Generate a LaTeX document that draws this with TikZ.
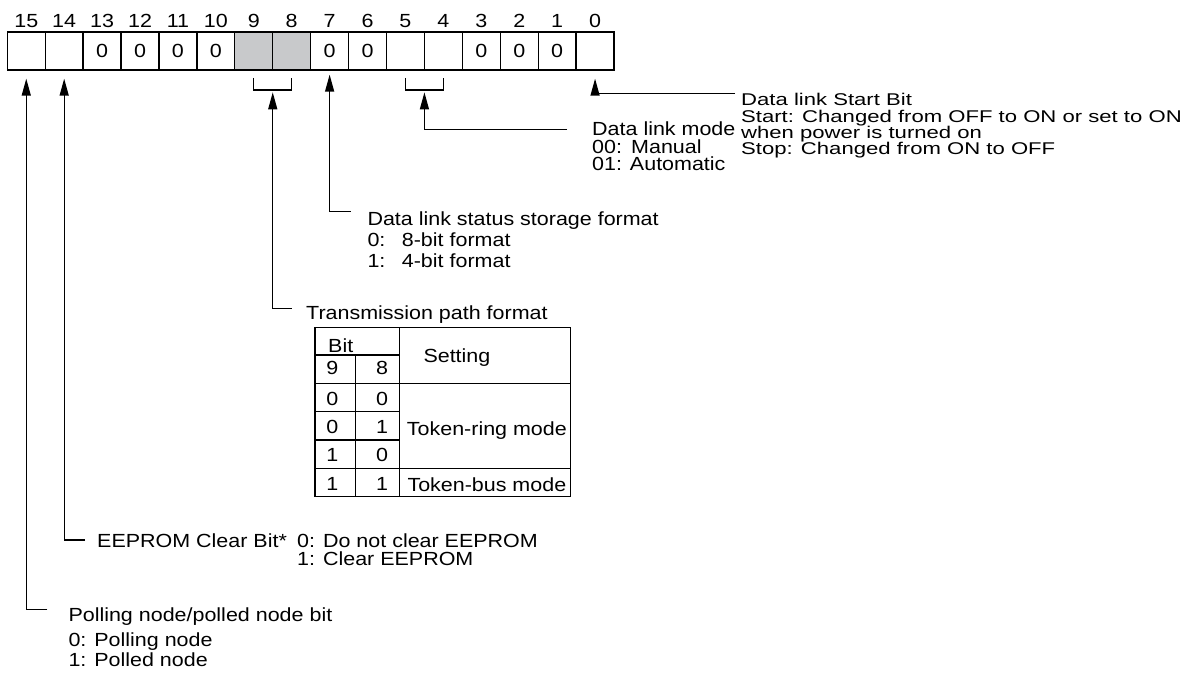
\documentclass[tikz,border=0pt]{standalone}
\usepackage{fontspec}
\setmainfont[FakeStretch=1.13]{Liberation Sans}
\newfontfamily\wideface[FakeStretch=1.3]{Liberation Sans}
\usetikzlibrary{arrows.meta,calc}
\setlength{\lineskiplimit}{-50pt}
\definecolor{cellgray}{RGB}{200,201,203}
\tikzset{
  cell/.style={draw, line width=1.3pt, minimum width=37.92pt, minimum height=38pt, inner sep=0pt},
  lbl/.style={anchor=base, inner sep=0pt},
  txt/.style={anchor=north west, inner sep=0pt, align=left},
  arr/.style={-{Triangle[length=17pt,width=9pt]}, line width=1.3pt},
  wire/.style={line width=1.3pt}
}
\begin{document}
\begin{tikzpicture}[x=1pt, y=-1pt, every node/.style={font=\fontsize{19}{20.7}\selectfont}]
  \useasboundingbox (0,0) rectangle (1193,674);

  % register bits 15 .. 0
  \foreach \b/\v/\f in {15/{}/white, 14/{}/white, 13/0/white, 12/0/white, 11/0/white, 10/0/white, 9/{}/cellgray, 8/{}/cellgray,
                        7/0/white, 6/0/white, 5/{}/white, 4/{}/white, 3/0/white, 2/0/white, 1/0/white, 0/{}/white} {
    \node[cell, fill=\f] (b\b) at ({26.26+37.92*(15-\b)}, 51) {\v};
    \node[lbl] (n\b) at ({26.26+37.92*(15-\b)}, 27.3) {\b};
  }

  % brackets under 9-8 and 5-4
  \draw[wire] ($(b9.south)+(0,7.3)$) -- ++(0,12) -| ($(b8.south)+(0,7.3)$);
  \draw[wire] ($(b5.south)+(0,7.3)$) -- ++(0,12) -| ($(b4.south)+(0,7.3)$);
  \coordinate (m98) at ($(b9.south)!0.5!(b8.south)+(0,21.7)$);
  \coordinate (m54) at ($(b5.south)!0.5!(b4.south)+(0,21.7)$);

  % descriptions
  \node[txt, font=\wideface\fontsize{17}{16}\selectfont] (tStart) at (741,93) {Data link Start Bit\\[0.5pt]Start: Changed from OFF to ON or set to ON\\when power is turned on\\Stop: Changed from ON to OFF};
  \node[txt, font=\fontsize{19}{17.5}\selectfont] (tMode) at (592,122) {Data link mode\\\makebox[39pt][l]{00:}Manual\\01: Automatic};
  \node[txt] (tStat) at (367.3,212) {Data link status storage format\\\makebox[34.4pt][l]{0:}8-bit format\\\makebox[34.4pt][l]{1:}4-bit format};
  \node[txt] (tPath) at (306,306) {Transmission path format};
  \node[txt, font=\fontsize{19}{18}\selectfont] (tClr) at (97,534) {EEPROM Clear Bit*};
  \node[txt, font=\fontsize{19}{18}\selectfont] (tClrV) at (297,534) {0: Do not clear EEPROM\\1: Clear EEPROM};
  \node[txt, font=\fontsize{19}{20}\selectfont] (tPoll) at (68.3,607.7) {Polling node/polled node bit\\[5pt]0: Polling node\\1: Polled node};

  % leader lines
  \coordinate (kStart) at (735,93.3);
  \coordinate (kMode) at (567,129.3);
  \coordinate (kStat) at (350.7,211.7);
  \coordinate (kPath) at (291.7,308.3);
  \coordinate (kClr) at (85,540);
  \coordinate (kPoll) at (47.3,609.3);
  \draw[arr] (kStart) -| ($(b0.south)+(0,8)$);
  \draw[arr] (kMode) -| (m54);
  \draw[arr] (kStat) -| ($(b7.south)+(0,4)$);
  \draw[arr] (kPath) -| (m98);
  \draw[arr] (kClr) -| ($(b14.south)+(0,8)$);
  \draw[arr] (kPoll) -| ($(b15.south)+(0,8)$);

  % table for bits 9 and 8
  \draw[wire] (315,327.7) rectangle (570.7,496.5);
  \draw[wire] (355.7,355) -- (355.7,496.5);
  \draw[wire] (399.3,327.7) -- (399.3,496.5);
  \draw[wire] (315,355) -- (399.3,355);
  \draw[wire] (315,383.3) -- (570.7,383.3);
  \foreach \y in {411.7,440} \draw[wire] (315,\y) -- (399.3,\y);
  \draw[wire] (315,468.3) -- (570.7,468.3);
  \node[lbl, anchor=base west] (hBit) at (328,352) {Bit};
  \node[lbl] (h9) at (332.3,374.5) {9};
  \node[lbl] (h8) at (382,374.5) {8};
  \node[lbl, anchor=base west] (hSet) at (423.3,362.7) {Setting};
  \foreach \r/\p/\q/\yy in {1/0/0/405, 2/0/1/433.3, 3/1/0/461.7, 4/1/1/490} {
    \node[lbl] (rowa\r) at (332.3,\yy) {\p};
    \node[lbl] (rowb\r) at (382,\yy) {\q};
  }
  \node[lbl, anchor=base west] (tRing) at (406.7,435) {Token-ring mode};
  \node[lbl, anchor=base west] (tBus) at (407.3,491.7) {Token-bus mode};
\end{tikzpicture}
\end{document}
